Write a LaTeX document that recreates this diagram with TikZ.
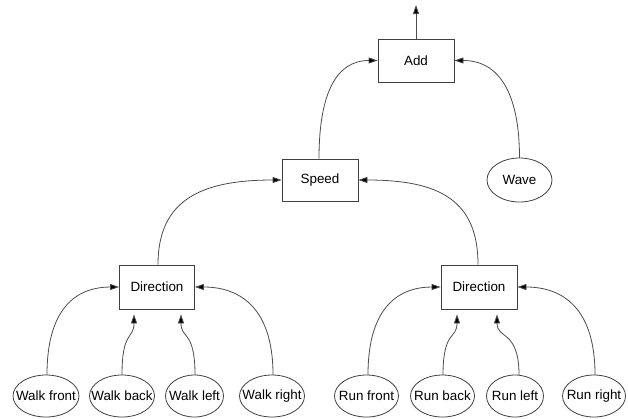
\documentclass[tikz,border=0pt]{standalone}
\usepackage{fontspec}
\setmainfont{Liberation Sans}
\usetikzlibrary{shapes.geometric,arrows.meta}
\begin{document}
\begin{tikzpicture}[x=1pt,y=-1pt,
  font=\fontsize{13.4}{15}\selectfont,
  box/.style={draw=black!75,line width=0.8pt,rectangle,inner sep=0pt,minimum width=76pt,minimum height=43pt},
  leaf/.style={rectangle,inner sep=0pt,minimum height=42pt},
  oval/.style={draw=black!75,line width=0.8pt},
  edge/.style={draw=black!70,line width=0.8pt,-{Triangle[length=9pt,width=6pt,fill=black]}}]
\useasboundingbox (0,0) rectangle (628,418);
\node[box] (add) at (416,60.5) {Add};
\node[box,minimum height=42pt] (speed) at (320,180) {Speed};
\node[leaf,minimum width=65pt,minimum height=44pt] (wave) at (519.5,180) {Wave};
\node[box,minimum width=75pt,minimum height=44pt] (dl) at (157,287) {Direction};
\node[box,minimum width=76pt,minimum height=44pt] (dr) at (479,287) {Direction};
\node[leaf,minimum width=66pt] (wf) at (46,396) {Walk front};
\node[leaf,minimum width=65pt] (wb) at (122,396) {Walk back};
\node[leaf,minimum width=58pt] (wl) at (194.5,396) {Walk left};
\node[leaf,minimum width=65pt] (wr) at (272,396) {Walk right};
\node[leaf,minimum width=64pt] (rf) at (366.5,396) {Run front};
\node[leaf,minimum width=64pt] (rb) at (442.5,396) {Run back};
\node[leaf,minimum width=57pt] (rl) at (515,396) {Run left};
\node[leaf,minimum width=63pt] (rr) at (594,396) {Run right};
\draw[oval] (wave.center) ellipse [x radius=32.5pt, y radius=22pt];
\draw[oval] (wf.center) ellipse [x radius=33pt, y radius=21pt];
\draw[oval] (wb.center) ellipse [x radius=32.5pt, y radius=21pt];
\draw[oval] (wl.center) ellipse [x radius=29pt, y radius=21pt];
\draw[oval] (wr.center) ellipse [x radius=32.5pt, y radius=21pt];
\draw[oval] (rf.center) ellipse [x radius=32pt, y radius=21pt];
\draw[oval] (rb.center) ellipse [x radius=32pt, y radius=21pt];
\draw[oval] (rl.center) ellipse [x radius=28.5pt, y radius=21pt];
\draw[oval] (rr.center) ellipse [x radius=31.5pt, y radius=21pt];
\coordinate (out) at (416,5);
\draw[edge] (add.north) -- (out);
\draw[edge] ([xshift=-1pt]speed.north) .. controls +(0,-64) and +(-42,0) .. (add.west);
\draw[edge] (wave.north) .. controls +(0,-64) and +(45,0) .. (add.east);
\draw[edge] ([xshift=1pt]dl.north) .. controls +(0,-65) and +(-80,0) .. (speed.west);
\draw[edge] ([xshift=-1pt]dr.north) .. controls +(0,-65) and +(80,0) .. (speed.east);
\draw[edge] ([xshift=1pt]wf.north) .. controls +(0,-72) and +(-38,0) .. (dl.west);
\draw[edge] ([xshift=1pt]wr.north) .. controls +(0,-72) and +(40,0) .. (dl.east);
\draw[edge,shorten >=5pt] (wb.north) .. controls +(0,-45) and +(0,30) .. ([xshift=-23pt]dl.south);
\draw[edge,shorten >=5pt] ([xshift=0.5pt]wl.north) .. controls +(0,-45) and +(0,30) .. ([xshift=24pt]dl.south);
\draw[edge] ([xshift=1.5pt]rf.north) .. controls +(0,-72) and +(-38,0) .. (dr.west);
\draw[edge] ([xshift=1pt]rr.north) .. controls +(0,-72) and +(40,0) .. (dr.east);
\draw[edge,shorten >=5pt] ([xshift=0.5pt]rb.north) .. controls +(0,-45) and +(0,30) .. ([xshift=-22pt]dr.south);
\draw[edge,shorten >=5pt] ([xshift=4pt]rl.north) .. controls +(0,-45) and +(0,30) .. ([xshift=18pt]dr.south);
\end{tikzpicture}
\end{document}
